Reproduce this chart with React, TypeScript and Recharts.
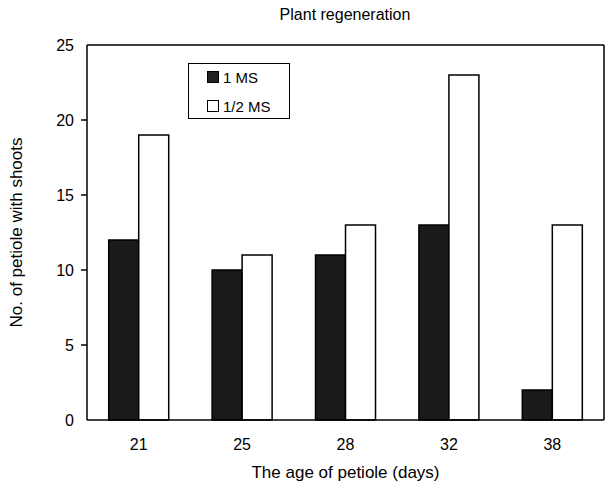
import { BarChart, Bar, XAxis, YAxis } from 'recharts';

const ages = ['21', '25', '28', '32', '38'];
const fullMS = [12, 10, 11, 13, 2];
const halfMS = [19, 11, 13, 23, 13];
const yTicks = [0, 5, 10, 15, 20, 25];

const data = ages.map((age, i) => ({ age, full: fullMS[i], half: halfMS[i] }));

const FONT = '"Liberation Sans", Arial, sans-serif';

// y tick: label on the left, short tick pointing into the plot
const YTick = (props: any) => {
  const { x, y, payload } = props;
  const axisX = x + 7;
  return (
    <g>
      <text x={x} y={y} dy="0.35em" textAnchor="end" fontSize={16} fill="#000" fontFamily={FONT}>
        {payload.value}
      </text>
      {payload.value !== 0 && payload.value !== 25 && (
        <line x1={axisX} x2={axisX + 6} y1={y} y2={y} stroke="#000" strokeWidth={1.5} />
      )}
    </g>
  );
};

const LegendBox = () => (
  <div
    style={{
      position: 'absolute',
      left: 188,
      top: 63,
      border: '1px solid #000',
      width: 102,
      height: 56,
      background: '#fff',
      fontFamily: FONT,
      fontSize: 15,
      boxSizing: 'border-box',
      paddingLeft: 18,
      paddingTop: 2,
    }}
  >
    <div style={{ display: 'flex', alignItems: 'center', height: 22 }}>
      <span style={{ width: 10, height: 10, background: '#222', border: '1px solid #000', marginRight: 4 }} />
      1 MS
    </div>
    <div style={{ display: 'flex', alignItems: 'center', height: 22, marginTop: 7 }}>
      <span style={{ width: 10, height: 10, background: '#fff', border: '1px solid #000', marginRight: 4 }} />
      1/2 MS
    </div>
  </div>
);

export default function App() {
  return (
    <div style={{ position: 'absolute', left: 0, top: 0, width: 608, height: 487, background: '#fff' }}>
      <div
        style={{
          position: 'absolute',
          left: 0,
          width: 608,
          top: 6,
          paddingLeft: 82,
          boxSizing: 'border-box',
          textAlign: 'center',
          fontFamily: FONT,
          fontSize: 16,
          color: '#000',
        }}
      >
        Plant regeneration
      </div>
      <BarChart
        width={608}
        height={487}
        data={data}
        margin={{ top: 44, right: 3, bottom: 0, left: 0 }}
        barGap={0}
        barCategoryGap="21%"
      >
        <XAxis
          dataKey="age"
          height={67}
          axisLine={{ stroke: '#000', strokeWidth: 1.5 }}
          tickLine={false}
          tickMargin={13}
          tick={{ fill: '#000', fontSize: 16, fontFamily: FONT }}
          label={{ value: 'The age of petiole (days)', position: 'insideBottom', offset: 9, fill: '#000', fontSize: 17, fontFamily: FONT }}
        />
        <XAxis
          xAxisId="top"
          dataKey="age"
          orientation="top"
          height={1}
          tick={false}
          tickLine={false}
          axisLine={{ stroke: '#000', strokeWidth: 1.5 }}
        />
        <YAxis
          domain={[0, 25]}
          ticks={yTicks}
          width={87}
          axisLine={{ stroke: '#000', strokeWidth: 1.5 }}
          tickLine={false}
          tickMargin={7}
          tick={<YTick />}
          label={{
            value: 'No. of petiole with shoots',
            angle: -90,
            position: 'insideLeft',
            offset: 16,
            style: { textAnchor: 'middle' },
            fill: '#000',
            fontSize: 17,
            fontFamily: FONT,
          }}
        />
        <YAxis
          yAxisId="right"
          orientation="right"
          width={1}
          domain={[0, 25]}
          tick={false}
          tickLine={false}
          axisLine={{ stroke: '#000', strokeWidth: 1.5 }}
        />
        <Bar dataKey="full" name="1 MS" fill="#1a1a1a" stroke="#000" strokeWidth={1.5} isAnimationActive={false} />
        <Bar dataKey="half" name="1/2 MS" fill="#fff" stroke="#000" strokeWidth={1.5} isAnimationActive={false} />
      </BarChart>
      <LegendBox />
    </div>
  );
}
